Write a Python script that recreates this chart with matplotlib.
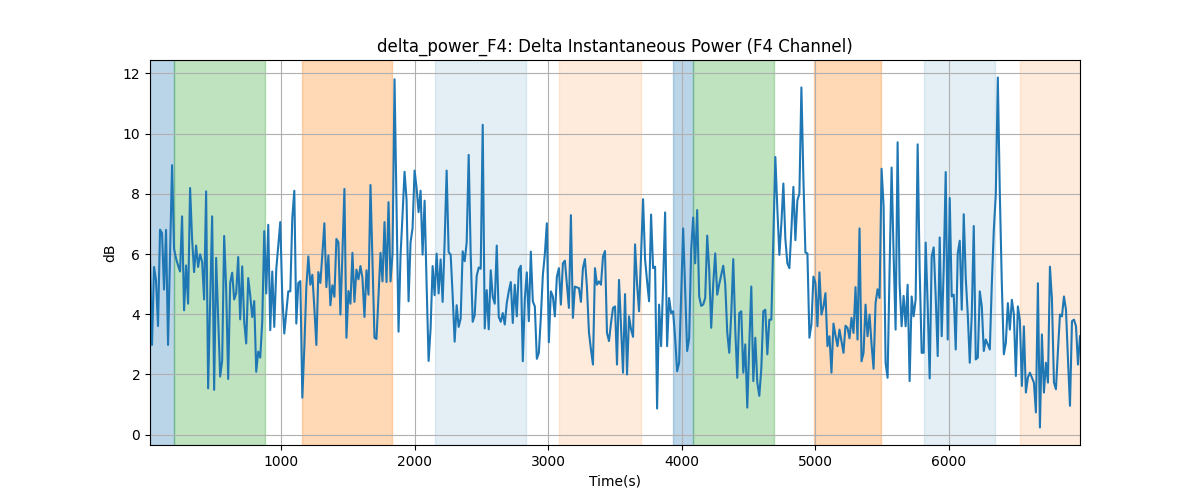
import matplotlib

matplotlib.use("Agg")

import matplotlib.pyplot as plt
import numpy as np

# sample grid: one window every 15 s
T_START = 20.0
T_STEP = 15.0

# delta power in dB (10 values per row)
delta_db = [
    5.84, 2.98, 5.57, 5.13, 3.61, 6.81, 6.69, 4.82, 6.80, 2.98,
    6.00, 8.95, 6.17, 5.85, 5.62, 5.42, 7.25, 4.13, 5.62, 4.35,
    8.19, 6.50, 5.40, 6.28, 5.57, 5.99, 5.74, 4.49, 8.08, 1.54,
    4.40, 7.25, 1.49, 5.87, 3.90, 1.93, 2.45, 6.60, 4.85, 1.85,
    5.04, 5.38, 4.49, 4.70, 5.90, 3.83, 5.59, 3.75, 3.03, 5.20,
    4.63, 3.91, 4.44, 2.09, 2.76, 2.56, 3.75, 6.76, 4.69, 6.97,
    3.47, 5.42, 3.58, 5.50, 6.30, 7.06, 4.58, 3.36, 4.08, 4.76,
    4.76, 7.20, 8.10, 3.69, 5.04, 5.10, 1.23, 2.90, 4.90, 5.92,
    4.98, 5.31, 4.20, 2.98, 5.40, 5.04, 6.00, 7.02, 4.90, 5.95,
    4.30, 4.96, 4.58, 6.50, 6.39, 3.99, 6.00, 8.16, 3.22, 4.77,
    4.35, 6.04, 4.41, 5.48, 5.16, 5.60, 5.20, 3.91, 5.46, 4.65,
    8.29, 5.80, 3.22, 3.18, 4.60, 6.04, 5.09, 7.06, 5.07, 7.72,
    5.09, 6.00, 11.80, 7.60, 3.42, 5.95, 7.30, 8.73, 7.80, 4.43,
    6.39, 6.86, 8.77, 8.20, 7.39, 8.10, 5.98, 7.77, 5.00, 2.45,
    3.53, 5.60, 4.63, 6.01, 4.69, 5.82, 4.41, 6.40, 8.77, 6.06,
    5.98, 4.63, 3.09, 4.30, 3.58, 3.86, 6.09, 5.76, 6.39, 9.29,
    6.00, 3.75, 3.97, 5.27, 5.55, 5.51, 10.29, 3.53, 4.80, 3.50,
    5.46, 4.58, 4.35, 6.28, 3.91, 3.75, 4.04, 3.66, 4.37, 4.76,
    5.07, 3.71, 4.98, 3.93, 5.47, 5.61, 2.44, 4.50, 5.39, 3.77,
    6.08, 4.43, 4.26, 2.52, 2.72, 3.90, 5.30, 6.00, 7.02, 3.07,
    4.76, 4.59, 3.93, 5.25, 5.53, 4.32, 5.69, 5.78, 5.00, 4.21,
    7.29, 3.88, 4.92, 4.89, 4.87, 4.41, 5.53, 5.83, 4.90, 3.40,
    2.83, 2.33, 5.53, 4.98, 5.09, 4.98, 5.91, 6.10, 3.38, 3.11,
    3.70, 4.21, 4.26, 2.33, 5.14, 3.60, 2.06, 4.67, 2.00, 3.93,
    3.50, 3.25, 6.32, 5.00, 4.10, 6.00, 7.82, 5.83, 5.10, 4.43,
    7.31, 5.53, 5.58, 0.87, 4.32, 2.94, 5.00, 7.38, 2.94, 4.54,
    4.04, 4.10, 3.20, 2.11, 2.39, 4.60, 6.85, 4.80, 2.78, 3.20,
    6.13, 7.21, 5.69, 7.46, 4.59, 4.28, 4.32, 4.54, 6.61, 5.47,
    3.55, 5.00, 6.02, 4.65, 5.00, 5.30, 5.61, 5.00, 3.40, 2.72,
    4.00, 5.83, 3.50, 1.89, 4.04, 4.10, 2.06, 3.00, 0.90, 3.00,
    4.92, 1.78, 3.22, 1.73, 1.29, 2.20, 4.10, 4.15, 2.67, 3.82,
    3.82, 6.50, 9.22, 7.50, 5.97, 7.00, 8.34, 6.50, 5.69, 5.53,
    6.80, 8.23, 6.46, 7.79, 8.00, 11.53, 8.50, 6.05, 6.02, 3.22,
    3.66, 5.25, 5.03, 3.60, 5.39, 3.99, 4.26, 4.70, 2.94, 3.27,
    2.06, 3.69, 3.30, 2.94, 3.49, 3.10, 2.72, 3.62, 3.55, 3.20,
    3.88, 3.38, 4.90, 3.16, 6.85, 2.44, 2.72, 4.32, 3.27, 3.99,
    3.00, 2.19, 4.37, 4.83, 4.54, 8.83, 7.60, 2.39, 1.89, 5.50,
    8.87, 6.00, 3.49, 9.71, 5.00, 3.60, 4.61, 3.60, 4.98, 1.78,
    4.59, 3.93, 4.50, 9.64, 5.50, 2.72, 2.72, 6.38, 4.30, 1.87,
    5.91, 6.22, 4.60, 2.61, 6.55, 3.27, 5.50, 8.72, 3.16, 7.86,
    4.59, 4.65, 2.83, 6.02, 6.44, 4.15, 7.32, 5.20, 4.00, 2.39,
    4.00, 6.93, 2.50, 2.56, 4.76, 4.26, 2.78, 3.16, 3.00, 2.83,
    5.00, 6.80, 8.00, 11.86, 8.00, 5.00, 2.67, 3.05, 4.37, 3.49,
    4.48, 4.00, 1.95, 4.26, 3.80, 1.62, 3.60, 1.40, 1.90, 2.06,
    1.90, 1.73, 0.74, 5.03, 0.24, 3.33, 1.40, 2.39, 1.73, 5.58,
    4.50, 1.73, 1.51, 2.80, 3.99, 3.93, 4.59, 4.15, 2.50, 0.96,
    3.77, 3.82, 3.60, 2.33, 3.27,
]

# shaded segments: (start, end) in seconds
span_start = [20, 200, 1160, 2152, 3080, 3935, 4087, 4992, 5810, 6530]
span_end = [200, 880, 1832, 2837, 3692, 4087, 4690, 5492, 6347, 6980]
span_color = ["C0", "C2", "C1", "C0", "C1", "C0", "C2", "C1", "C0", "C1"]
span_alpha = [0.3, 0.3, 0.3, 0.12, 0.15, 0.3, 0.3, 0.3, 0.12, 0.15]

time_s = T_START + T_STEP * np.arange(len(delta_db))

fig, ax = plt.subplots(figsize=(12, 5), dpi=100)

for x0, x1, c, a in zip(span_start, span_end, span_color, span_alpha):
    ax.axvspan(x0, x1, color=c, alpha=a)

ax.plot(time_s, delta_db, color="C0", lw=1.5)

ax.set_xlim(time_s[0], time_s[-1])
ax.set_title("delta_power_F4: Delta Instantaneous Power (F4 Channel)")
ax.set_xlabel("Time(s)")
ax.set_ylabel("dB")
ax.grid(True)

fig.savefig("out.png", dpi=100)
plt.close(fig)
